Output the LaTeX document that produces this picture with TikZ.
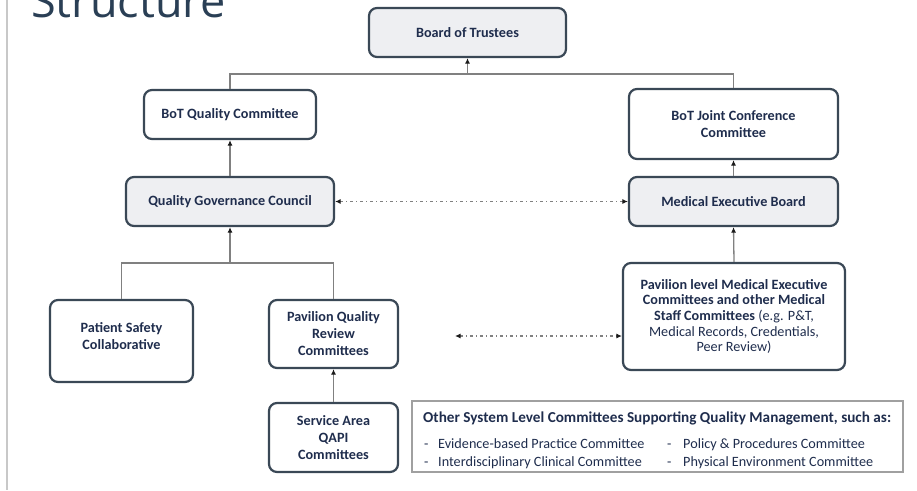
\documentclass[tikz,border=0pt]{standalone}
\usepackage{fontspec}
\setmainfont{Carlito}
\newfontfamily\titlefont{Open Sans}
\usetikzlibrary{arrows.meta}
\definecolor{txt}{HTML}{1F2D4D}
\definecolor{bord}{HTML}{3A4856}
\definecolor{boxfill}{HTML}{EEEFF2}
\definecolor{conn}{HTML}{808080}
\definecolor{tipcol}{HTML}{1A1A1A}
\definecolor{titlecol}{HTML}{2A3F55}
\definecolor{frame}{HTML}{C8C8C8}
\tikzset{
  orgbox/.style={draw=bord, line width=2.2pt, rounded corners=8pt, fill=white,
    text=txt, align=center, font=\fontsize{14.2}{17}\selectfont\bfseries, inner sep=2pt},
  graybox/.style={orgbox, fill=boxfill},
  link/.style={draw=conn, line width=1.3pt},
  arr/.style={link, -{Latex[length=5.5pt,width=5pt,color=tipcol]}},
  dbl/.style={draw=conn, line width=1.2pt, dash pattern=on 3pt off 3pt on 1pt off 3pt,
    {Latex[length=5.5pt,width=5pt,color=tipcol]}-{Latex[length=5.5pt,width=5pt,color=tipcol]}},
  listtxt/.style={text=txt, font=\fontsize{14.2}{16}\selectfont, anchor=base west, inner sep=0pt}
}
\begin{document}
\begin{tikzpicture}[x=1pt,y=-1pt]
\useasboundingbox (0,0) rectangle (917,490);
\draw[frame, line width=2pt] (7,0) -- (7,490);
\begin{scope}
\clip (0,0) rectangle (917,490);
\node[anchor=base west, inner sep=0pt, text=titlecol, font=\titlefont\fontsize{45}{50}\selectfont] (title) at (31,17) {Structure};
\end{scope}

\node[graybox, minimum width=197pt, minimum height=49pt] (bot) at (467.5,32.5) {Board of Trustees};
\node[orgbox, minimum width=172pt, minimum height=49pt] (qc) at (230,114.5) {BoT Quality Committee};
\node[graybox, minimum width=208pt, minimum height=49pt] (qgc) at (230,201.5) {Quality Governance Council};
\node[orgbox, minimum width=209pt, minimum height=70pt] (jcc) at (733.5,124) {BoT Joint Conference\\Committee};
\node[graybox, minimum width=209pt, minimum height=49pt] (meb) at (733.5,201.5) {Medical Executive Board};
\node[orgbox, minimum width=143pt, minimum height=82pt, text depth=10pt] (psc) at (121.5,341) {Patient Safety\\Collaborative};
\node[orgbox, minimum width=129pt, minimum height=68pt] (pqrc) at (333.5,334) {Pavilion Quality\\Review\\Committees};
\node[orgbox, minimum width=129pt, minimum height=69pt] (saq) at (333.5,437.5) {Service Area\\QAPI\\Committees};
\node[orgbox, minimum width=222pt, minimum height=107pt, font=\fontsize{14.2}{15.7}\selectfont\bfseries] (pmec) at (734,316.5) {Pavilion level Medical Executive\\Committees and other Medical\\Staff Committees \mdseries(e.g. P\&T,\\\mdseries Medical Records, Credentials,\\\mdseries Peer Review)};

\node[draw=frame!80!black, line width=1.3pt, minimum width=491pt, minimum height=71pt, inner sep=0pt] (other) at (657.5,436.5) {};
\node[listtxt, font=\fontsize{15.2}{17}\selectfont\bfseries] (othert) at (423,422) {Other System Level Committees Supporting Quality Management, such as:};
\node[listtxt] (d1) at (424,448) {-};
\node[listtxt] (l1) at (438,448) {Evidence-based Practice Committee};
\node[listtxt] (d2) at (424,466) {-};
\node[listtxt] (l2) at (438,466) {Interdisciplinary Clinical Committee};
\node[listtxt] (d3) at (667,448) {-};
\node[listtxt] (l3) at (683,448) {Policy \& Procedures Committee};
\node[listtxt] (d4) at (667,466) {-};
\node[listtxt] (l4) at (683,466) {Physical Environment Committee};

% top tree
\coordinate (j1) at (467.5,74);
\draw[link] (qc.north) |- (j1) -| (jcc.north);
\draw[arr] (j1) -- (bot.south);
\draw[arr] (qgc.north) -- (qc.south);
\draw[arr] (meb.north) -- (jcc.south);
\draw[dbl] (qgc.east) -- (meb.west);

% lower left tree
\coordinate (j2) at (230,263);
\draw[link] (psc.north) |- (j2) -| (pqrc.north);
\draw[arr] (j2) -- (qgc.south);
\draw[arr] (saq.north) -- (pqrc.south);

% right
\draw[arr] (pmec.north) -- (meb.south);
\coordinate (e1) at (455,336);
\draw[dbl] (e1) -- (e1 -| pmec.west);
\end{tikzpicture}
\end{document}
